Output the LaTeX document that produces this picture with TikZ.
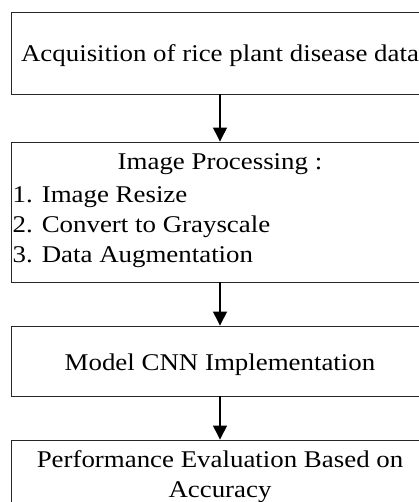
\documentclass[tikz,border=0pt]{standalone}
\usepackage{fontspec}
\usepackage{graphicx}
\setmainfont{Liberation Serif}
\usetikzlibrary{arrows.meta}
\newcommand{\wtxt}[1]{\scalebox{1.12}[1]{#1}}
\tikzset{
  stage/.style={draw=black!85, line width=0.9pt, minimum width=418pt, inner sep=0pt, rectangle},
  label/.style={inner sep=0pt, font=\fontsize{24}{30}\selectfont},
  flow/.style={line width=1.3pt, -{Triangle[length=14pt,width=14pt]}}
}
\begin{document}
\begin{tikzpicture}[x=1pt,y=1pt]
\useasboundingbox (0,0) rectangle (419,-502);
\clip (0,0) rectangle (419,-502);

% stage boxes
\node[stage, minimum height=82pt]  (acq)  at (220,-53)  {};
\node[stage, minimum height=140pt] (proc) at (220,-212) {};
\node[stage, minimum height=70pt]  (cnn)  at (220,-361) {};
\node[stage, minimum height=80pt]  (eval) at (220,-480) {};

% texts
\node[label, anchor=base] (t1) at (220,-62) {\wtxt{Acquisition of rice plant disease data}};
\node[label, anchor=base] (t2) at (220,-170) {\wtxt{Image Processing :}};
\node[label, anchor=base west] (t3) at (12.5,-203) {\wtxt{1. Image Resize}};
\node[label, anchor=base west] (t4) at (12.5,-233) {\wtxt{2. Convert to Grayscale}};
\node[label, anchor=base west] (t5) at (12.5,-262) {\wtxt{3. Data Augmentation}};
\node[label, anchor=base] (t6) at (220,-370) {\wtxt{Model CNN Implementation}};
\node[label, anchor=base] (t7) at (220,-467) {\wtxt{Performance Evaluation Based on}};
\node[label, anchor=base] (t8) at (220,-497) {\wtxt{Accuracy}};

% connectors
\draw[flow] (acq.south)  -- (proc.north);
\draw[flow] (proc.south) -- (cnn.north);
\draw[flow] (cnn.south)  -- (eval.north);
\end{tikzpicture}
\end{document}
